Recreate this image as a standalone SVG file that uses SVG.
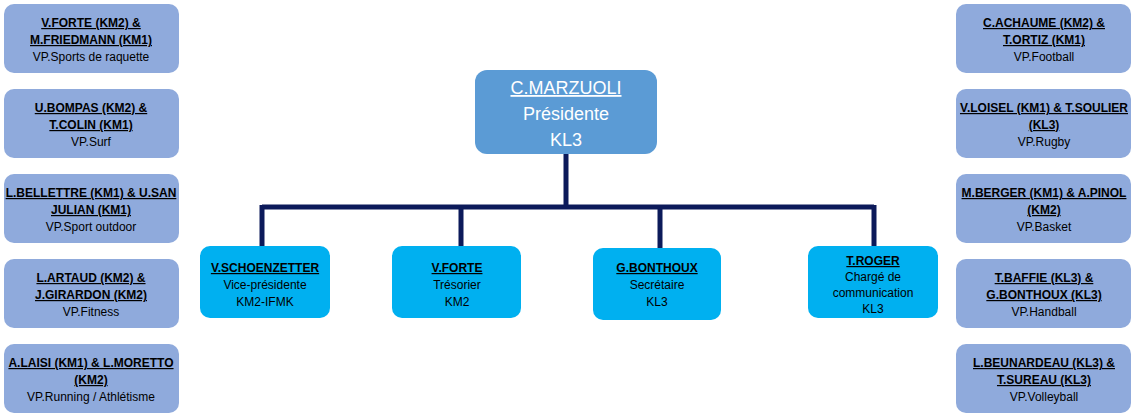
<svg xmlns="http://www.w3.org/2000/svg" width="1135" height="418" viewBox="0 0 1135 418">
<style>
text{font-family:"Liberation Sans",Arial,sans-serif;text-anchor:middle;fill:#000}
.s{fill:#8faadc}
.c{fill:#00b0f0}
.n{font-weight:bold;font-size:12px;text-decoration:underline}
.r{font-size:12px}
.p text{fill:#fff;font-size:18px}
.l{stroke:#0c1a5a;stroke-width:5;fill:none}
</style>
<rect width="1135" height="418" fill="#fff"/>
<g id="connectors">
<path class="l" d="M566 154V207M262 207H874M262 205V246M461 207V246M660 207V248M874 205V246"/>
</g>
<g id="president" class="p">
<rect x="475" y="70" width="182" height="84" rx="12" fill="#5b9bd5"/>
<text x="566" y="94" text-decoration="underline">C.MARZUOLI</text>
<text x="566" y="120">Présidente</text>
<text x="566" y="146">KL3</text>
</g>
<g id="vp"><rect class="c" x="200" y="246" width="130" height="72" rx="10"/>
<text class="n" x="265" y="272">V.SCHOENZETTER</text><text class="r" x="265" y="289">Vice-présidente</text><text class="r" x="265" y="306">KM2-IFMK</text></g>
<g id="tresorier"><rect class="c" x="392" y="246" width="129" height="72" rx="10"/>
<text class="n" x="457" y="272">V.FORTE</text><text class="r" x="457" y="289">Trésorier</text><text class="r" x="457" y="306">KM2</text></g>
<g id="secretaire"><rect class="c" x="593" y="248" width="128" height="72" rx="10"/>
<text class="n" x="657" y="272">G.BONTHOUX</text><text class="r" x="657" y="289">Secrétaire</text><text class="r" x="657" y="306">KL3</text></g>
<g id="com"><rect class="c" x="808" y="246" width="130" height="72" rx="10"/>
<text class="n" x="873" y="265">T.ROGER</text><text class="r" x="873" y="281">Chargé de</text><text class="r" x="873" y="297">communication</text><text class="r" x="873" y="313">KL3</text></g>

<g id="l1"><rect class="s" x="4" y="4" width="175" height="69" rx="10"/>
<text class="n" x="91" y="27">V.FORTE (KM2) &amp;</text><text class="n" x="91" y="44">M.FRIEDMANN (KM1)</text><text class="r" x="91" y="61">VP.Sports de raquette</text></g>
<g id="l2"><rect class="s" x="4" y="89" width="175" height="69" rx="10"/>
<text class="n" x="91" y="112">U.BOMPAS (KM2) &amp;</text><text class="n" x="91" y="129">T.COLIN (KM1)</text><text class="r" x="91" y="146">VP.Surf</text></g>
<g id="l3"><rect class="s" x="4" y="174" width="175" height="69" rx="10"/>
<text class="n" x="91" y="197">L.BELLETTRE (KM1) &amp; U.SAN</text><text class="n" x="91" y="214">JULIAN (KM1)</text><text class="r" x="91" y="231">VP.Sport outdoor</text></g>
<g id="l4"><rect class="s" x="4" y="259" width="175" height="69" rx="10"/>
<text class="n" x="91" y="282">L.ARTAUD (KM2) &amp;</text><text class="n" x="91" y="299">J.GIRARDON (KM2)</text><text class="r" x="91" y="316">VP.Fitness</text></g>
<g id="l5"><rect class="s" x="4" y="344" width="175" height="69" rx="10"/>
<text class="n" x="91" y="367">A.LAISI (KM1) &amp; L.MORETTO</text><text class="n" x="91" y="384">(KM2)</text><text class="r" x="91" y="401">VP.Running / Athlétisme</text></g>

<g id="r1"><rect class="s" x="956" y="4" width="175" height="69" rx="10"/>
<text class="n" x="1044" y="27">C.ACHAUME (KM2) &amp;</text><text class="n" x="1044" y="44">T.ORTIZ (KM1)</text><text class="r" x="1044" y="61">VP.Football</text></g>
<g id="r2"><rect class="s" x="956" y="89" width="175" height="69" rx="10"/>
<text class="n" x="1044" y="112">V.LOISEL (KM1) &amp; T.SOULIER</text><text class="n" x="1044" y="129">(KL3)</text><text class="r" x="1044" y="146">VP.Rugby</text></g>
<g id="r3"><rect class="s" x="956" y="174" width="175" height="69" rx="10"/>
<text class="n" x="1044" y="197">M.BERGER (KM1) &amp; A.PINOL</text><text class="n" x="1044" y="214">(KM2)</text><text class="r" x="1044" y="231">VP.Basket</text></g>
<g id="r4"><rect class="s" x="956" y="259" width="175" height="69" rx="10"/>
<text class="n" x="1044" y="282">T.BAFFIE (KL3) &amp;</text><text class="n" x="1044" y="299">G.BONTHOUX (KL3)</text><text class="r" x="1044" y="316">VP.Handball</text></g>
<g id="r5"><rect class="s" x="956" y="344" width="175" height="69" rx="10"/>
<text class="n" x="1044" y="367">L.BEUNARDEAU (KL3) &amp;</text><text class="n" x="1044" y="384">T.SUREAU (KL3)</text><text class="r" x="1044" y="401">VP.Volleyball</text></g>
</svg>
